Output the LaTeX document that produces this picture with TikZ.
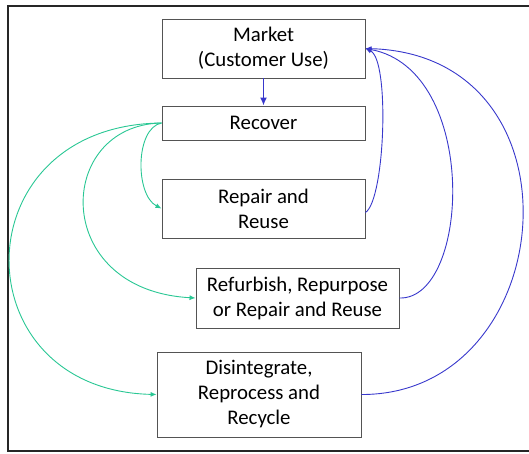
\documentclass[tikz,border=0pt]{standalone}
\usepackage{fontspec}
\setmainfont{Carlito}
\usetikzlibrary{arrows.meta}
\definecolor{loopgreen}{rgb}{0.16,0.78,0.58}
\definecolor{loopblue}{rgb}{0.22,0.22,0.80}
\definecolor{boxgray}{rgb}{0.33,0.33,0.33}

\begin{document}
\begin{tikzpicture}[x=1pt,y=-1pt,
    stage/.style={draw=boxgray,line width=0.9pt,align=center,inner sep=0pt,
        font=\fontsize{20.8}{25}\selectfont},
    back/.style={loopgreen,line width=0.9pt,-{Latex[length=6pt,width=5pt]}},
    home/.style={loopblue,line width=0.9pt,-{Latex[length=6pt,width=5pt]}}]
\useasboundingbox (0,0) rectangle (529,453);
\clip (0,0) rectangle (529,453);
% outer frame
\draw[line width=1.2pt,black!85] (8,6) rectangle (560,451);
% stages
\node[stage,minimum width=203,minimum height=59] (market) at (263.5,48.5) {Market\\(Customer Use)};
\node[stage,minimum width=203,minimum height=34] (recover) at (263.5,123) {Recover};
\node[stage,minimum width=203,minimum height=59] (repair) at (263.5,208.5) {Repair and\\Reuse};
\node[stage,minimum width=203,minimum height=60] (refurb) at (297.5,298) {Refurbish, Repurpose\\or Repair and Reuse};
\node[stage,minimum width=204,minimum height=85] (disint) at (259,394.5) {Disintegrate,\\Reprocess and\\Recycle};
% market to recover
\draw[loopblue,line width=1.6pt,-{Latex[length=8pt,width=7pt]}] (market) -- (recover);
% recover to the three loops
\draw[back] (recover.west) .. controls (135,128) and (135,195) .. (repair.west);
\draw[back] (recover.west) .. controls (55,125) and (50,290) .. (refurb.west);
\draw[back] (recover.west) .. controls (-40,125) and (-40,390) .. (disint.west);
% loops back to market
\draw[home] ([yshift=-4]repair.east) .. controls (385,200) and (390,60) .. (market.east);
\draw[home] (refurb.east) .. controls (470,300) and (480,70) .. (market.east);
\draw[home] (disint.east) .. controls (560,395) and (590,55) .. (market.east);
\end{tikzpicture}
\end{document}
